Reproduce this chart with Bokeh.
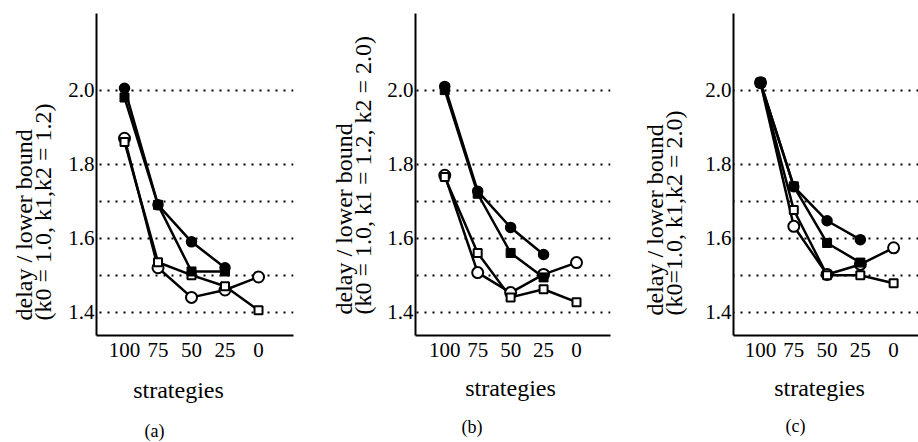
from bokeh.plotting import figure
from bokeh.models import Range1d, FixedTicker, PrintfTickFormatter, Title
from bokeh.layouts import row
from bokeh.embed import file_html
from bokeh.resources import INLINE

# ---------------- data ----------------
strategies = [100, 75, 50, 25, 0]
y_ticks = [1.4, 1.6, 1.8, 2.0]
grid_levels = [1.4, 1.5, 1.6, 1.7, 1.8, 2.0]

# panel (a)
a_filled_circle = [2.005, 1.69, 1.59, 1.52]
a_filled_square = [1.98, 1.69, 1.51, 1.51]
a_open_circle = [1.87, 1.52, 1.44, 1.46, 1.495]
a_open_square = [1.86, 1.535, 1.50, 1.47, 1.405]

# panel (b)
b_filled_circle = [2.01, 1.727, 1.629, 1.556]
b_filled_square = [2.00, 1.72, 1.56, 1.494]
b_open_circle = [1.77, 1.507, 1.453, 1.502, 1.534]
b_open_square = [1.765, 1.56, 1.44, 1.462, 1.427]

# panel (c)
c_filled_circle = [2.02, 1.739, 1.647, 1.596]
c_filled_square = [2.02, 1.74, 1.587, 1.534]
c_open_circle = [2.02, 1.632, 1.502, 1.529, 1.574]
c_open_square = [2.02, 1.676, 1.50, 1.50, 1.478]

y_title = "delay / lower bound"
a_params = "(k0 = 1.0, k1,k2 = 1.2)"
b_params = "(k0 = 1.0, k1 = 1.2, k2 = 2.0)"
c_params = "(k0=1.0, k1,k2 = 2.0)"
x_title = "strategies"
captions = ["(a)", "(b)", "(c)"]

FONT = "Liberation Serif"
Y_RANGE = (1.337, 2.207)


def make_panel(fc, fs, oc, osq, params, caption, geom, xr, lab):
    width, left, right, top, bottom = geom
    ylab_offset, ylab_standoff, xlab_offset, xlab_standoff, cap_offset = lab
    p = figure(width=width, height=442,
               x_range=Range1d(*xr), y_range=Range1d(*Y_RANGE),
               min_border_left=left, min_border_right=right,
               min_border_top=top, min_border_bottom=bottom,
               output_backend="svg", toolbar_location=None, tools="")
    p.outline_line_color = None
    p.background_fill_color = "white"
    p.border_fill_color = "white"
    p.xgrid.visible = False
    p.ygrid.ticker = FixedTicker(ticks=grid_levels)
    p.ygrid.grid_line_color = "black"
    p.ygrid.grid_line_width = 2.2
    p.ygrid.grid_line_dash = "2 6"
    for ax in (p.xaxis[0], p.yaxis[0]):
        ax.axis_line_width = 2
        ax.axis_line_color = "black"
        ax.major_tick_line_color = None
        ax.minor_tick_line_color = None
        ax.major_tick_out = 0
        ax.major_tick_in = 0
        ax.minor_tick_out = 0
        ax.minor_tick_in = 0
        ax.major_label_text_font = FONT
        ax.major_label_text_font_size = "21px"
        ax.major_label_text_color = "black"
    p.xaxis.ticker = FixedTicker(ticks=strategies)
    p.yaxis.ticker = FixedTicker(ticks=y_ticks)
    p.yaxis.formatter = PrintfTickFormatter(format="%.1f")
    p.xaxis.major_label_standoff = 7
    p.yaxis.major_label_standoff = 2

    xf = strategies[:len(fc)]
    xfs = strategies[:len(fs)]
    xo = strategies[:len(oc)]
    xos = strategies[:len(osq)]

    for xx, yy in ((xo, oc), (xos, osq), (xfs, fs), (xf, fc)):
        p.line(xx, yy, line_color="black", line_width=2.5)

    p.scatter(xo, oc, marker="circle", size=11, fill_color="white",
              line_color="black", line_width=2)
    p.scatter(xos, osq, marker="square", size=8, fill_color="white",
              line_color="black", line_width=2)
    p.scatter(xfs, fs, marker="square", size=9, fill_color="black",
              line_color="black", line_width=1)
    p.scatter(xf, fc, marker="circle", size=10, fill_color="black",
              line_color="black", line_width=1.5)

    # two-line y label, placed beside the y axis
    p.add_layout(Title(text=y_title + "\n" + params, align="left",
                       vertical_align="bottom", offset=ylab_offset,
                       standoff=ylab_standoff, text_font=FONT,
                       text_font_size="24px", text_font_style="normal",
                       text_color="black", text_line_height=0.74), "left")
    # x label and caption below the x axis
    p.add_layout(Title(text=x_title, align="left", vertical_align="bottom",
                       offset=xlab_offset, standoff=xlab_standoff,
                       text_font=FONT, text_font_size="24px",
                       text_font_style="normal", text_color="black"), "below")
    p.add_layout(Title(text=caption, align="left", vertical_align="bottom",
                       offset=cap_offset, standoff=0, text_font=FONT,
                       text_font_size="18px", text_font_style="normal",
                       text_color="black"), "below")
    return p


pa = make_panel(a_filled_circle, a_filled_square, a_open_circle, a_open_square,
                a_params, captions[0], (300, 96, 7, 10, 107), (120.9, -26.1),
                (15, 18, 36.7, 31, 48))
pb = make_panel(b_filled_circle, b_filled_square, b_open_circle, b_open_square,
                b_params, captions[1], (312, 115, 2, 13, 103), (122.2, -25.8),
                (21, 17, 49.7, 27, 46))
pc = make_panel(c_filled_circle, c_filled_square, c_open_circle, c_open_square,
                c_params, captions[2], (306, 121, 0, 13, 102), (120.3, -18.7),
                (20, 31, 40.7, 26, 52))

layout = row(pa, pb, pc)
open("out.html", "w").write(file_html(layout, INLINE))
